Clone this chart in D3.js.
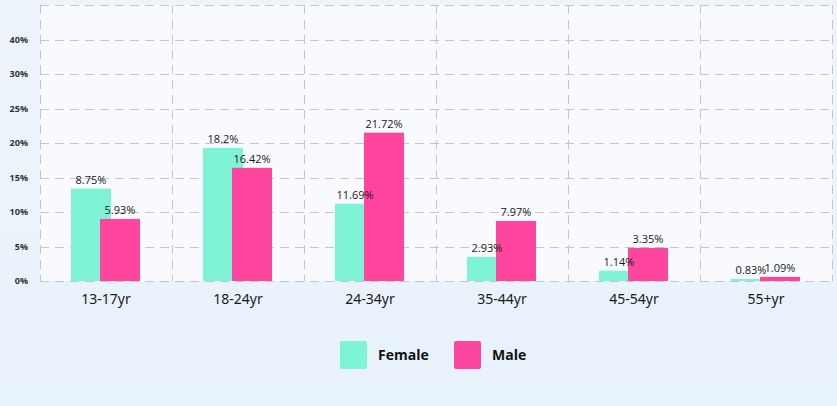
<!DOCTYPE html>
<html>
<head>
<meta charset="utf-8">
<script src="https://cdn.jsdelivr.net/npm/d3@7"></script>
<style>
  html, body { margin: 0; padding: 0; }
  body { width: 837px; height: 406px; overflow: hidden;
         background: linear-gradient(180deg, #eef4fb 0%, #e8f2fb 100%); }
  svg { display: block; }
</style>
</head>
<body>
<svg id="chart" width="837" height="406"></svg>
<script>
const categories = ["13-17yr", "18-24yr", "24-34yr", "35-44yr", "45-54yr", "55+yr"];
const seriesNames = ["Female", "Male"];
// bar heights as drawn (percent)
const femaleValues = [13.4, 19.3, 11.2, 3.5, 1.5, 0.3];
const maleValues   = [9.0, 16.4, 21.5, 8.7, 4.8, 0.6];
// value labels as printed
const femaleLabels = ["8.75%", "18.2%", "11.69%", "2.93%", "1.14%", "0.83%"];
const maleLabels   = ["5.93%", "16.42%", "21.72%", "7.97%", "3.35%", "1.09%"];
const tickValues = [0, 5, 10, 15, 20, 25, 30, 35];
const tickLabels = ["0%", "5%", "10%", "15%", "20%", "25%", "30%", "40%"];
const colors = ["#7ff3d5", "#ff469f"];

(function () {
const svg = d3.select("#chart");
const pl = 40, pr = 832, pt = 5, pb = 281;

const x = d3.scaleBand().domain(categories).range([pl, pr]).padding(0);
const y = d3.scaleLinear().domain([0, 40]).range([pb, pt]);

// plot background
svg.append("rect").attr("x", pl).attr("y", pt)
  .attr("width", pr - pl).attr("height", pb - pt)
  .attr("fill", "#f8fafd");

const grid = svg.append("g").attr("stroke", "#c4c6cb").attr("stroke-width", 1)
  .attr("stroke-dasharray", "9,6").attr("fill", "none");
tickValues.concat([40]).forEach(v => {
  grid.append("line").attr("x1", pl).attr("x2", pr)
    .attr("y1", Math.round(y(v)) + 0.5).attr("y2", Math.round(y(v)) + 0.5);
});
categories.forEach(c => {
  grid.append("line").attr("x1", Math.round(x(c)) + 0.5).attr("x2", Math.round(x(c)) + 0.5)
    .attr("y1", pt).attr("y2", pb);
});
grid.append("line").attr("x1", pr + 0.5).attr("x2", pr + 0.5).attr("y1", pt).attr("y2", pb);

// y axis labels
const yAxis = d3.axisLeft(y).tickValues(tickValues)
  .tickFormat((d, i) => tickLabels[i]).tickSize(0).tickPadding(12);
const ya = svg.append("g").attr("transform", `translate(${pl},0)`).call(yAxis);
ya.select(".domain").remove();
ya.selectAll("text").attr("font-family", "'Open Sans', sans-serif")
  .attr("font-size", 9).attr("font-weight", "bold").attr("fill", "#333");

// x axis labels
const xAxis = d3.axisBottom(x).tickSize(0).tickPadding(13);
const xa = svg.append("g").attr("transform", `translate(0,${pb})`).call(xAxis);
xa.select(".domain").remove();
xa.selectAll("text").attr("font-family", "'Noto Sans', sans-serif")
  .attr("font-size", 14).attr("fill", "#1a1a1a");

const barW = 40;
const offsets = [-35, -6];
const vals = [femaleValues, maleValues];
const labs = [femaleLabels, maleLabels];

[0, 1].forEach(s => {
  const g = svg.append("g");
  g.selectAll("rect").data(categories).join("rect")
    .attr("x", (c) => x(c) + x.bandwidth() / 2 + offsets[s])
    .attr("y", (c, i) => y(vals[s][i]))
    .attr("width", barW)
    .attr("height", (c, i) => y(0) - y(vals[s][i]))
    .attr("fill", colors[s]);
});
[0, 1].forEach(s => {
  svg.append("g").selectAll("text").data(categories).join("text")
    .attr("x", (c) => x(c) + x.bandwidth() / 2 + offsets[s] + barW / 2)
    .attr("y", (c, i) => y(vals[s][i]) - 5)
    .attr("text-anchor", "middle")
    .attr("font-family", "'Open Sans', sans-serif")
    .attr("font-size", 11).attr("fill", "#1a1a1a")
    .text((c, i) => labs[s][i]);
});

// legend
const legendX = [340, 454];
const lg = svg.append("g");
seriesNames.forEach((n, i) => {
  lg.append("rect").attr("x", legendX[i]).attr("y", 341).attr("width", 27).attr("height", 28)
    .attr("rx", 2).attr("fill", colors[i]);
  lg.append("text").attr("x", legendX[i] + 38).attr("y", 360)
    .attr("font-family", "'Open Sans', sans-serif").attr("font-weight", "bold")
    .attr("font-size", 14).attr("fill", "#111").text(n);
});
})();
</script>
</body>
</html>
